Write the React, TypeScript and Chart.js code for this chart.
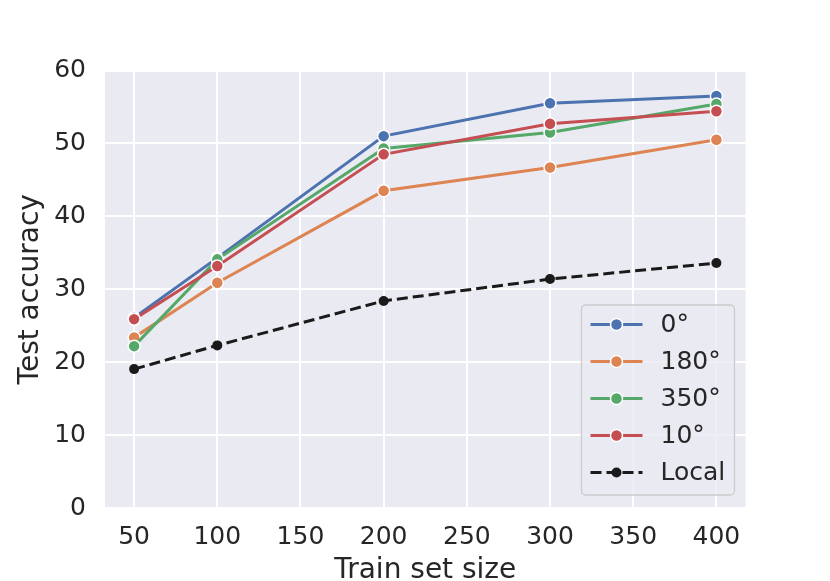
import { useRef, useEffect } from "react";
import { Chart, registerables } from "chart.js";

Chart.register(...registerables);

const trainSizes = [50, 100, 200, 300, 400];
const xTicks = [50, 100, 150, 200, 250, 300, 350, 400];
const acc0 = [26.1, 34.3, 51.0, 55.5, 56.5];
const acc180 = [23.4, 30.9, 43.5, 46.7, 50.5];
const acc350 = [22.2, 34.1, 49.3, 51.5, 55.4];
const acc10 = [25.9, 33.2, 48.5, 52.7, 54.4];
const accLocal = [19.05, 22.3, 28.4, 31.4, 33.6];

const FONT = "'DejaVu Sans', sans-serif";
const TEXT = "#262626";
const BG = "#eaeaf2";

const pts = (ys: number[]) => trainSizes.map((x, i) => ({ x, y: ys[i] }));

const plotBg = {
  id: "plotBg",
  beforeDraw(chart: any) {
    const { ctx, chartArea: a } = chart;
    ctx.save();
    ctx.fillStyle = BG;
    ctx.fillRect(a.left, a.top, a.right - a.left, a.bottom - a.top);
    ctx.restore();
  },
};

// legend drawn inside the plot, lower right, matplotlib style
const innerLegend = {
  id: "innerLegend",
  afterDraw(chart: any) {
    const { ctx, chartArea: a } = chart;
    const w = 153;
    const h = 190;
    const x0 = a.right - 11 - w;
    const y0 = a.bottom - 13 - h;
    ctx.save();
    ctx.beginPath();
    ctx.roundRect(x0, y0, w, h, 4);
    ctx.fillStyle = "rgba(234,234,242,0.8)";
    ctx.fill();
    ctx.strokeStyle = "#cccccc";
    ctx.lineWidth = 1.3;
    ctx.stroke();
    chart.data.datasets.forEach((ds: any, i: number) => {
      const y = y0 + 19.5 + i * 37;
      ctx.beginPath();
      ctx.setLineDash(ds.borderDash || []);
      ctx.strokeStyle = ds.borderColor;
      ctx.lineWidth = ds.borderWidth;
      ctx.moveTo(x0 + 9, y);
      ctx.lineTo(x0 + 61, y);
      ctx.stroke();
      ctx.setLineDash([]);
      ctx.beginPath();
      ctx.arc(x0 + 35, y, ds.pointRadius, 0, Math.PI * 2);
      ctx.fillStyle = ds.pointBackgroundColor;
      ctx.fill();
      if (ds.pointBorderWidth > 0) {
        ctx.strokeStyle = ds.pointBorderColor;
        ctx.lineWidth = ds.pointBorderWidth;
        ctx.stroke();
      }
      ctx.fillStyle = TEXT;
      ctx.font = `25px ${FONT}`;
      ctx.textBaseline = "middle";
      ctx.textAlign = "left";
      ctx.fillText(ds.label, x0 + 79, y + 1);
    });
    ctx.restore();
  },
};

const series = (label: string, data: number[], color: string, order: number) => ({
  label,
  data: pts(data),
  borderColor: color,
  backgroundColor: color,
  borderWidth: 3,
  pointRadius: 6,
  pointBackgroundColor: color,
  pointBorderColor: "#ffffff",
  pointBorderWidth: 1.5,
  order,
});

const App = () => {
  const chartRef = useRef<HTMLCanvasElement | null>(null);

  useEffect(() => {
    document.body.style.margin = "0";
    const ctx = chartRef.current?.getContext("2d");
    if (!ctx) return;

    const myChart = new Chart(ctx, {
      type: "line",
      data: {
        datasets: [
          series("0°", acc0, "#4c72b0", 5),
          series("180°", acc180, "#dd8452", 4),
          series("350°", acc350, "#55a868", 3),
          series("10°", acc10, "#c44e52", 2),
          {
            label: "Local",
            data: pts(accLocal),
            borderColor: "#1a1a1a",
            backgroundColor: "#1a1a1a",
            borderWidth: 3,
            borderDash: [11, 5],
            pointRadius: 5,
            pointBackgroundColor: "#1a1a1a",
            pointBorderColor: "#1a1a1a",
            pointBorderWidth: 0,
            order: 1,
          },
        ],
      },
      options: {
        animation: false,
        responsive: false,
        layout: { padding: { left: 0, top: 70.5, right: 84.5, bottom: 0 } },
        plugins: {
          legend: { display: false },
          tooltip: { enabled: false },
        },
        scales: {
          x: {
            type: "linear",
            min: 32.5,
            max: 417.5,
            afterBuildTicks: (axis: any) => {
              axis.ticks = xTicks.map((v) => ({ value: v }));
            },
            afterFit: (scale: any) => {
              scale.height = 73;
            },
            border: { display: false },
            grid: { color: "#ffffff", lineWidth: 2, drawTicks: false },
            ticks: {
              color: TEXT,
              font: { family: FONT, size: 25 },
              padding: 14,
              maxRotation: 0,
              autoSkip: false,
            },
            title: {
              display: true,
              text: "Train set size",
              color: TEXT,
              font: { family: FONT, size: 28, lineHeight: 1 },
              padding: { top: 0, bottom: -4 },
            },
          },
          y: {
            min: 0,
            max: 60,
            afterFit: (scale: any) => {
              scale.width = 105;
            },
            border: { display: false },
            grid: { color: "#ffffff", lineWidth: 2, drawTicks: false },
            ticks: {
              stepSize: 10,
              color: TEXT,
              font: { family: FONT, size: 25 },
              padding: 19,
            },
            title: {
              display: true,
              text: "Test accuracy",
              color: TEXT,
              font: { family: FONT, size: 28, lineHeight: 1 },
              padding: { top: 17, bottom: 0 },
            },
          },
        },
      },
      plugins: [plotBg, innerLegend],
    });

    return () => {
      myChart.destroy();
    };
  }, []);

  return <canvas ref={chartRef} width={830} height={581}></canvas>;
};

export default App;
